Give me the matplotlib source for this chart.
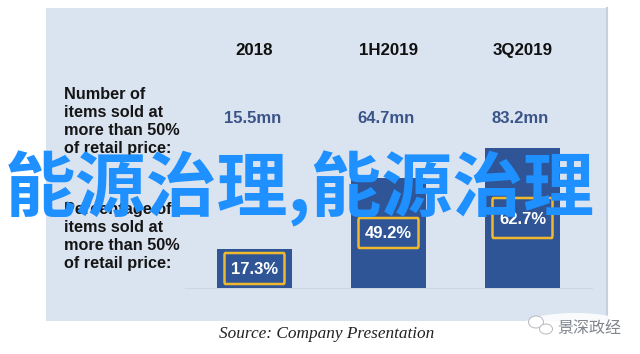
import matplotlib
matplotlib.use("Agg")
import matplotlib.pyplot as plt
from matplotlib.patches import FancyBboxPatch, Ellipse

plt.rcParams['font.family'] = ['Liberation Sans', 'Noto Sans CJK SC', 'DejaVu Sans']

periods = ["2018", "1H2019", "3Q2019"]
items_sold = ["15.5mn", "64.7mn", "83.2mn"]
pct_sold = [17.3, 49.2, 62.7]
row1 = "Number of\nitems sold at\nmore than 50%\nof retail price:"
row2 = "Percentage of\nitems sold at\nmore than 50%\nof retail price:"
source = "Source: Company Presentation"
overlay = "能源治理,能源治理"
watermark = "景深政经"

W, H = 640, 354
px_per_pct = 2.23
base_y = 288
centers = [254.5, 388.5, 522.5]
# label boxes, in picture pixels
box_top = [253, 218, 198]
box_bot = [284, 248, 238]
label_y = [274, 238, 224]
blue = "#2F5597"
gold = "#F0B92D"

fig = plt.figure(figsize=(W/100, H/100), dpi=100, facecolor="white")
# axes in pixels for the panel, y scale set so bars land right
ax = fig.add_axes([46/W, 1-321/H, (607-46)/W, (321-8)/H])
ax.set_xlim(46, 607)
ax.set_ylim((base_y-321)/px_per_pct, (base_y-8)/px_per_pct)
ax.set_facecolor("#DAE3F0")
ax.set_xticks([])
ax.set_yticks([])
for s in ax.spines.values():
    s.set_visible(False)
ax.spines['right'].set_visible(True)
ax.spines['right'].set_color("#C6CFDD")
ax.spines['right'].set_linewidth(1.5)

ax.axhline(0, xmin=(185-46)/561, xmax=(592-46)/561, color="#CFD6E3", lw=0.8, zorder=1)
ax.bar(centers, pct_sold, width=75, color=blue, zorder=2)


def py(y):
    return (base_y-y)/px_per_pct


for c, p, n, v, ly, bt, bb in zip(centers, periods, items_sold, pct_sold, label_y, box_top, box_bot):
    ax.text(c, py(55), p, ha="center", va="baseline", fontsize=12.2, fontweight="bold", color="#111111")
    ax.text(c-2, py(123), n, ha="center", va="baseline", fontsize=12, fontweight="bold", color="#3B5488")
    ax.add_patch(FancyBboxPatch((c-30, py(bb)), 60, py(bt)-py(bb), boxstyle="round,pad=0,rounding_size=1",
                                fc=blue, ec=gold, lw=1.8, zorder=3))
    ax.text(c, py(ly), "%.1f%%" % v, ha="center", va="baseline", fontsize=12, fontweight="bold",
            color="white", zorder=4)

ax.text(64, py(121.5), row1, ha="left", va="center", fontsize=11.7, fontweight="bold", color="#151515", linespacing=1.25)
ax.text(64, py(236.5), row2, ha="left", va="center", fontsize=11.7, fontweight="bold", color="#151515", linespacing=1.25)

fig.text(327/W, 1-334/H, source, ha="center", va="center", fontsize=12.4, style="italic",
         family="Liberation Serif", color="#222222")

fig.text(300/W, 1-189/H, overlay, ha="center", va="center", fontsize=51, fontweight="bold",
         family=["Noto Sans CJK SC", "DejaVu Sans"], color="#1E90FF", zorder=10)

# watermark: white patch over the panel corner, chat icon, name
over = fig.add_axes([0, 0, 1, 1], facecolor="none")
over.set_xlim(0, W)
over.set_ylim(H, 0)
over.axis("off")
over.add_patch(Ellipse((575, 325), 104, 24, fc="white", ec="none", alpha=0.85))
over.add_patch(Ellipse((536, 322), 15, 12, fc="white", ec="#B5B8BE", lw=0.7))
over.add_patch(Ellipse((546, 329), 13, 10, fc="white", ec="#B5B8BE", lw=0.7))
over.text(589, 328, watermark, ha="center", va="center", fontsize=11.5,
          family=["Noto Sans CJK SC", "DejaVu Sans"], color="#80858E")

fig.savefig("out.png", dpi=100)
